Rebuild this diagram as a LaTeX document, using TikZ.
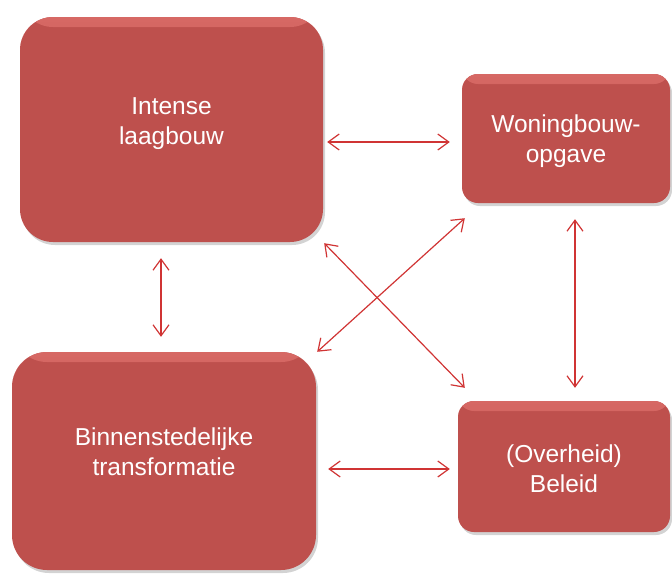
\documentclass[tikz,border=0pt]{standalone}
\usepackage{fontspec}
\setmainfont{Liberation Sans}
\usetikzlibrary{arrows.meta,shadows}
\definecolor{boxred}{RGB}{190,80,77}
\definecolor{boxlight}{RGB}{214,104,100}
\definecolor{arrred}{RGB}{208,52,52}
\begin{document}
\begin{tikzpicture}[x=1pt,y=-1pt,
  box/.style={fill=boxred, draw=none, inner sep=0pt,
    drop shadow={opacity=0.35, shadow xshift=2pt, shadow yshift=-3pt},
    path picture={\shade[top color=boxlight, bottom color=boxred]
      (path picture bounding box.north west) rectangle
      ([yshift=-10pt]path picture bounding box.north east);}},
  lbl/.style={text=white, align=center, font=\fontsize{24.5}{30}\selectfont},
  dbl/.style={draw=arrred, line width=1.2pt,
    {Straight Barb[length=11pt,width=16pt]}-{Straight Barb[length=11pt,width=16pt]}}]
\useasboundingbox (0,0) rectangle (672,574);
\node[box, minimum width=303pt, minimum height=225pt, rounded corners=33pt,
  label={[lbl, yshift=6pt]center:{Intense\\laagbouw}}] (b1) at (171.5,129.5) {};
\node[box, minimum width=208pt, minimum height=129pt, rounded corners=16pt,
  label={[lbl, yshift=-3pt]center:{Woningbouw-\\opgave}}] (b2) at (566,138.5) {};
\node[box, minimum width=304pt, minimum height=218pt, rounded corners=35pt,
  label={[lbl, yshift=9pt]center:{Binnenstedelijke\\transformatie}}] (b3) at (164,461) {};
\node[box, minimum width=212pt, minimum height=131pt, rounded corners=16pt,
  label={[lbl, yshift=-2pt]center:{(Overheid)\\Beleid}}] (b4) at (564,466.5) {};
% arrows
\draw[dbl, shorten <=4pt, shorten >=12pt] ([yshift=-12.5pt]b1.east) -- ([yshift=-3.5pt]b2.west);
\draw[dbl, shorten <=12pt, shorten >=8pt] ([yshift=-8pt]b3.east) -- ([yshift=-2.5pt]b4.west);
\draw[dbl, shorten <=16pt, shorten >=15pt] ([xshift=-10.5pt]b1.south) -- ([xshift=-3pt]b3.north);
\draw[dbl, shorten <=16pt, shorten >=13pt] ([xshift=9pt]b2.south) -- ([xshift=11pt]b4.north);
\draw[dbl] ([shift={(1pt,-1pt)}]b1.south east) -- ([shift={(7pt,13pt)}]b4.north west);
\draw[dbl] ([shift={(3pt,-15pt)}]b2.south west) -- ([shift={(1pt,0pt)}]b3.north east);
\end{tikzpicture}
\end{document}
